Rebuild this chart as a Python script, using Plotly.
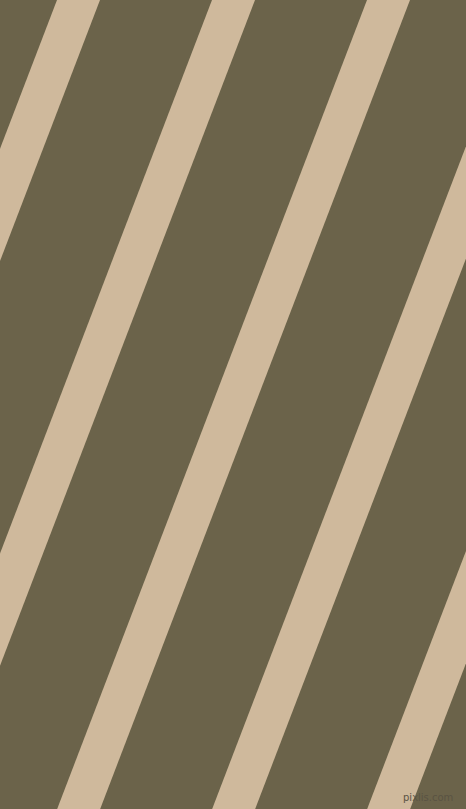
import plotly.graph_objects as go

# stripe geometry (pixels, y grows downward)
stripe_left_at_top = [-98, 57, 212, 367, 522, 677]
stripe_width = 43
slope_dx_per_dy = 0.383
canvas_w = 466
canvas_h = 809

BG = "#6B634A"
STRIPE = "#CFB99C"

fig = go.Figure()

for c in stripe_left_at_top:
    shift = slope_dx_per_dy * canvas_h
    xs = [c, c + stripe_width, c + stripe_width - shift, c - shift, c]
    ys = [0, 0, canvas_h, canvas_h, 0]
    fig.add_trace(
        go.Scatter(
            x=xs,
            y=ys,
            mode="lines",
            fill="toself",
            fillcolor=STRIPE,
            line=dict(width=0, color=STRIPE),
            hoverinfo="skip",
            showlegend=False,
        )
    )

fig.add_annotation(
    x=455,
    y=797,
    xref="x",
    yref="y",
    text="pixlis.com",
    showarrow=False,
    xanchor="right",
    yanchor="middle",
    font=dict(family="DejaVu Sans", size=10, color="#5A5343"),
)

fig.update_layout(
    width=canvas_w,
    height=canvas_h,
    margin=dict(l=0, r=0, t=0, b=0),
    paper_bgcolor=BG,
    plot_bgcolor=BG,
    showlegend=False,
)
fig.update_xaxes(range=[0, canvas_w], visible=False, fixedrange=True)
fig.update_yaxes(range=[canvas_h, 0], visible=False, fixedrange=True)

# page body has a default 8px margin; drop it so the figure fills the window
fig.write_html(
    "out.html",
    config={"displayModeBar": False},
    post_script="document.body.style.margin='0';document.body.style.overflow='hidden';",
)
